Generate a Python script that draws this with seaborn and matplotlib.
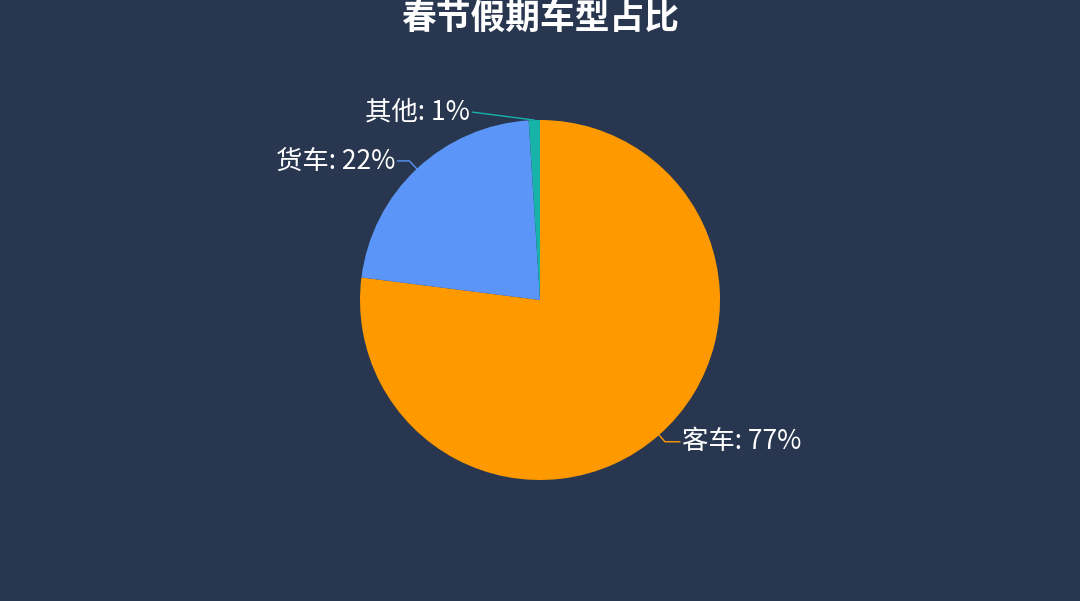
import numpy as np
import matplotlib
matplotlib.use("Agg")
import matplotlib.pyplot as plt
import seaborn as sns

categories = ["客车", "货车", "其他"]
values = [77, 22, 1]
colors = ["#FF9900", "#5A95F7", "#17B3A9"]
title = "春节假期车型占比"

BG = "#29364F"
sns.set_theme(style="white")
plt.rcParams["font.family"] = ["Noto Sans CJK SC", "DejaVu Sans"]

W, H = 1080, 601
fig = plt.figure(figsize=(W / 100, H / 100), dpi=100, facecolor=BG)
ax = fig.add_axes([0, 0, 1, 1])
ax.set_facecolor(BG)
R = 180.0

wedges, _ = ax.pie(values, colors=colors, startangle=90, counterclock=False,
                   radius=R, center=(0, 0), frame=True,
                   wedgeprops=dict(linewidth=0))
# axis units in pixels, center at (540, 300 from top)
ax.set_xlim(-540, 540)
ax.set_ylim(-301, 300)
ax.set_aspect("equal")
ax.axis("off")

# label placement tweaks (pixel offsets)
extra_len = {"客车": 15, "货车": 12, "其他": 62}
elbow_r = {"客车": 1.05, "货车": 1.06, "其他": 1.0}
for w, cat, v, c in zip(wedges, categories, values, colors):
    mid = np.deg2rad((w.theta1 + w.theta2) / 2)
    x0, y0 = R * np.cos(mid), R * np.sin(mid)
    er = elbow_r[cat] * R
    x1, y1 = er * np.cos(mid), er * np.sin(mid)
    side = 1 if x1 >= 0 else -1
    y2 = y1 + (8 if cat == "其他" else 0)
    x2 = x1 + side * extra_len[cat]
    ax.plot([x0, x1, x2], [y0, y1, y2], color=c, lw=1.0, solid_capstyle="round")
    ax.text(x2 + side * 2, y2, f"{cat}: {v}%", color="white", fontsize=19,
            ha="left" if side > 0 else "right", va="center")

fig.text(0.5, 1 - 18 / H, title, color="white", fontsize=25, fontweight="bold",
         ha="center", va="center")

fig.savefig("out.png", dpi=100, facecolor=BG)
